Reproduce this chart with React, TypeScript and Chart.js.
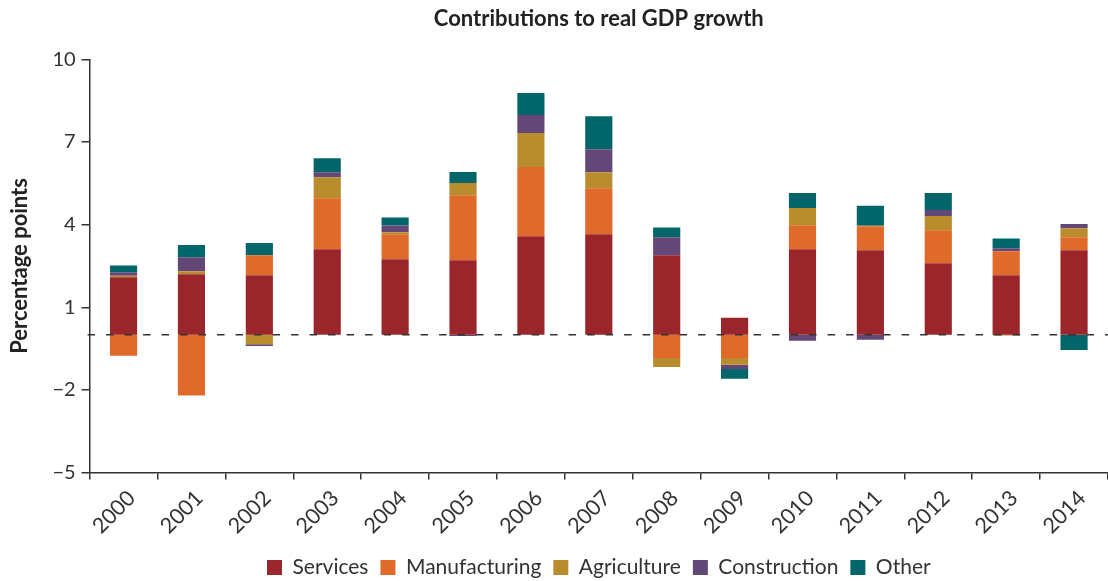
import React, { useEffect, useRef } from "react";
import { Chart, registerables } from "chart.js";

Chart.register(...registerables);

const years = ["2000", "2001", "2002", "2003", "2004", "2005", "2006", "2007", "2008", "2009", "2010", "2011", "2012", "2013", "2014"];
const services = [2.09, 2.2, 2.16, 3.11, 2.74, 2.71, 3.58, 3.65, 2.89, 0.62, 3.11, 3.07, 2.6, 2.16, 3.07];
const manufacturing = [-0.76, -2.2, 0.73, 1.85, 0.91, 2.36, 2.51, 1.67, -0.84, -0.84, 0.87, 0.87, 1.2, 0.87, 0.47];
const agriculture = [0.05, 0.11, -0.34, 0.76, 0.07, 0.44, 1.24, 0.58, -0.33, -0.25, 0.62, 0.02, 0.51, -0.03, 0.33];
const construction = [0.13, 0.51, -0.07, 0.18, 0.25, -0.04, 0.65, 0.84, 0.65, -0.15, -0.22, -0.18, 0.22, 0.11, 0.15];
const other = [0.25, 0.44, 0.44, 0.51, 0.29, 0.4, 0.8, 1.2, 0.36, -0.36, 0.55, 0.73, 0.62, 0.36, -0.55];

const seriesNames = ["Services", "Manufacturing", "Agriculture", "Construction", "Other"];
const seriesColors = ["#9a262c", "#e06a2a", "#b98c2e", "#634877", "#00666a"];

const FONT = "Lato, 'Open Sans', sans-serif";

const zeroLine = {
  id: "zeroLine",
  afterDatasetsDraw(chart: any) {
    const { ctx, chartArea, scales } = chart;
    const y = scales.y.getPixelForValue(0);
    ctx.save();
    ctx.setLineDash([7.5, 11]);
    ctx.lineWidth = 1.5;
    ctx.strokeStyle = "#333333";
    ctx.beginPath();
    ctx.moveTo(chartArea.left - 2, y);
    ctx.lineTo(chartArea.right, y);
    ctx.stroke();
    ctx.restore();
  },
};

export default function App() {
  const ref = useRef<HTMLCanvasElement | null>(null);

  useEffect(() => {
    document.body.style.margin = "0";
    const series = [services, manufacturing, agriculture, construction, other];
    const chart = new Chart(ref.current as HTMLCanvasElement, {
      type: "bar",
      data: {
        labels: years,
        datasets: series.map((d, i) => ({
          label: seriesNames[i],
          data: d,
          backgroundColor: seriesColors[i],
          borderWidth: 0,
          barPercentage: 0.8,
          categoryPercentage: 0.5,
        })),
      },
      options: {
        responsive: false,
        animation: false,
        layout: { padding: { left: 7, right: 0, top: 4, bottom: -7 } },
        plugins: {
          title: {
            display: true,
            text: "Contributions to real GDP growth",
            fullSize: false,
            color: "#222222",
            font: { family: FONT, size: 22, weight: "bold" },
            padding: { top: 2, bottom: 27 },
          },
          legend: {
            position: "bottom",
            fullSize: false,
            labels: {
              boxWidth: 15,
              boxHeight: 15,
              padding: 12,
              color: "#333333",
              font: { family: FONT, size: 21 },
            },
          },
          tooltip: { enabled: false },
        },
        scales: {
          x: {
            stacked: true,
            offset: true,
            grid: {
              offset: true,
              drawOnChartArea: false,
              drawTicks: true,
              tickLength: 7,
              color: "#333333",
              lineWidth: 1.5,
            },
            border: { color: "#333333", width: 1.5 },
            ticks: {
              minRotation: 45,
              maxRotation: 45,
              color: "#333333",
              font: { family: FONT, size: 21.5 },
              padding: 6,
              labelOffset: 8,
            },
          },
          y: {
            stacked: true,
            min: -5,
            max: 10,
            grid: {
              drawOnChartArea: false,
              drawTicks: true,
              tickLength: 8,
              color: "#333333",
              lineWidth: 1.5,
            },
            border: { color: "#333333", width: 1.5 },
            ticks: {
              stepSize: 3,
              color: "#333333",
              padding: 6,
              font: { family: FONT, size: 20 },
              callback: (v: any) => (Number(v) < 0 ? "\u2212" + Math.abs(Number(v)) : String(v)),
            },
            title: {
              display: true,
              text: "Percentage points",
              color: "#222222",
              font: { family: FONT, size: 22, weight: "bold" },
              padding: { top: 0, bottom: 13 },
            },
          },
        },
      },
      plugins: [zeroLine],
    });
    return () => chart.destroy();
  }, []);

  return (
    <div style={{ width: 1108, height: 581 }}>
      <canvas ref={ref} width={1108} height={581} style={{ display: "block" }} />
    </div>
  );
}
